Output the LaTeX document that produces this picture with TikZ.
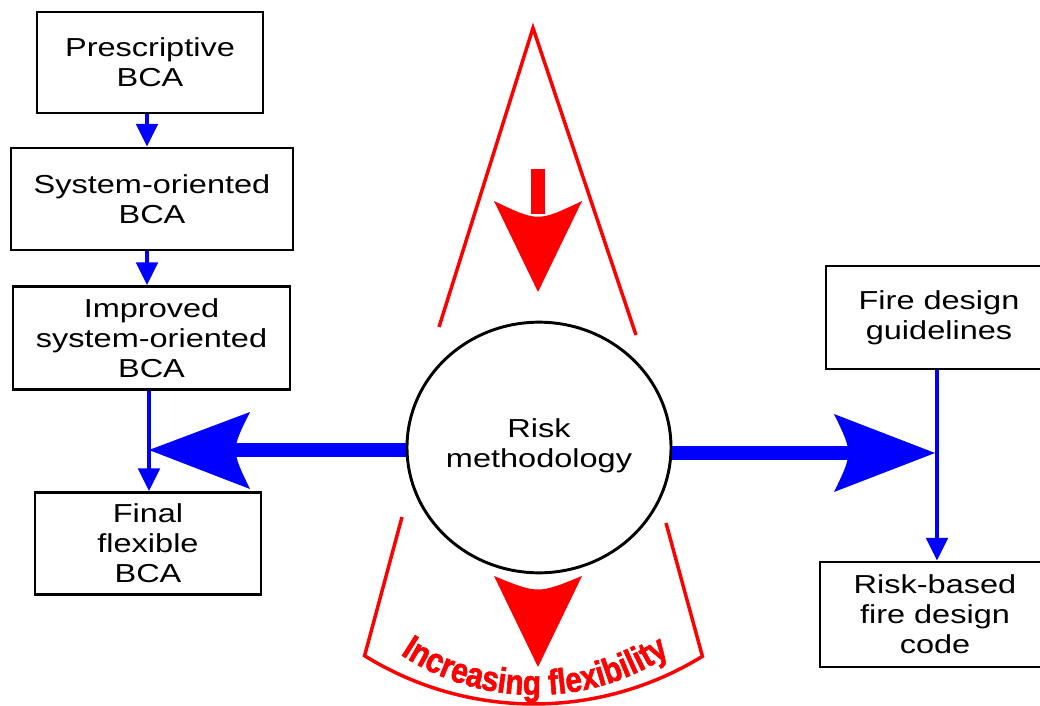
\documentclass[tikz,border=0pt]{standalone}
\usepackage{fontspec}
\setmainfont{Liberation Sans}
\newfontfamily\boxfont[FakeStretch=1.25]{Liberation Sans}
\newfontfamily\curvefont[FakeStretch=0.84,FakeBold=1.6]{Liberation Sans Bold}
\usetikzlibrary{arrows.meta,decorations.text,calc,shapes.geometric}
\begin{document}
\begin{tikzpicture}[x=0.75pt,y=0.75pt,
  box/.style={draw,line width=2.2pt,rectangle,align=center,inner sep=0pt,
    font=\boxfont\fontsize{19.5}{22.5}\selectfont},
  flow/.style={draw=blue,line width=3pt,-{Triangle[width=16pt,length=17pt]}},
  redline/.style={draw=red,line width=2.6pt},
  bigshaft/.style={line width=10.5pt},
]
\useasboundingbox (0,0) rectangle (1040,-706);
\clip (0,0) rectangle (1040,-706);
\fill[white] (0,0) rectangle (1040,-706);

% left column boxes
\node[box,minimum width=169.5pt,minimum height=75.75pt] (b1) at (150,-62.5) {Prescriptive\\BCA};
\node[box,minimum width=211.5pt,minimum height=76.5pt] (b2) at (152,-199) {System-oriented\\BCA};
\node[box,minimum width=207.75pt,minimum height=77.25pt] (b3) at (151.5,-338) {Improved\\system-oriented\\BCA};
\node[box,minimum width=169.5pt,minimum height=76.5pt] (b4) at (148,-543.5) {Final\\flexible\\BCA};

% right column boxes
\node[box,minimum width=169.5pt,minimum height=77.25pt] (fire) at (939,-317.5) {Fire design\\guidelines};
\node[box,minimum width=172.5pt,minimum height=78.75pt] (rb) at (935,-614.5) {Risk-based\\fire design\\code};

% central ellipse
\node[ellipse,draw,line width=2.2pt,minimum width=198pt,minimum height=188pt,inner sep=0pt] (risk) at (539,-447.5) {};
\node[align=center,inner sep=0pt,font=\boxfont\fontsize{19.5}{22.5}\selectfont] (risklabel) at ($(risk.center)+(0,2)$) {Risk\\methodology};

% thin flow arrows
\coordinate (lx) at (147,0);
\coordinate (lx2) at (149,0);
\coordinate (rx) at (937,0);
\draw[flow] (b1.south -| lx) -- (b2.north -| lx);
\draw[flow] (b2.south -| lx) -- (b3.north -| lx);
\draw[flow] (b3.south -| lx2) -- (b4.north -| lx2);
\draw[flow] (fire.south -| rx) -- (rb.north -| rx);

% big left arrow
\coordinate (ltip) at (149,-450);
\coordinate (lend) at (236,-450);
\draw[blue,bigshaft] (risk.west |- ltip) -- (lend);
\fill[blue] (ltip) -- (250,-412) .. controls (231,-450) .. (250,-489) -- cycle;

% big right arrow
\coordinate (rtip) at (935,-453);
\coordinate (rend) at (848,-453);
\draw[blue,bigshaft] (risk.east |- rtip) -- (rend);
\fill[blue] (rtip) -- (834,-414) .. controls (853,-453) .. (834,-492) -- cycle;

% top red wedge and arrow
\draw[redline,line join=miter] (439,-327) -- (533,-28) -- (636,-335);
\draw[red,bigshaft] (538,-169) -- (538,-214);
\fill[red] (494,-201) .. controls (538,-222) .. (582,-201) -- (538,-292) -- cycle;

% bottom red bracket and arrow
\coordinate (oc) at (534,-382.5);
\draw[redline,line join=miter] (402,-517) -- ($(oc)+(238.2:321.5)$)
   arc[start angle=238.2,end angle=301.6,radius=241.1pt] -- (666,-523);
\fill[red] (494,-576) .. controls (538,-594) .. (582,-576) -- (538,-667) -- cycle;

% curved text
\coordinate (tc) at (535,-451);
\path[decorate,decoration={text along path,text align=center,text color=red,
   text={|\curvefont\fontsize{26.5}{26.5}\selectfont|Increasing flexibility}}]
   ($(tc)+(225:244)$) arc[start angle=225,end angle=315,radius=183pt];
\end{tikzpicture}
\end{document}
